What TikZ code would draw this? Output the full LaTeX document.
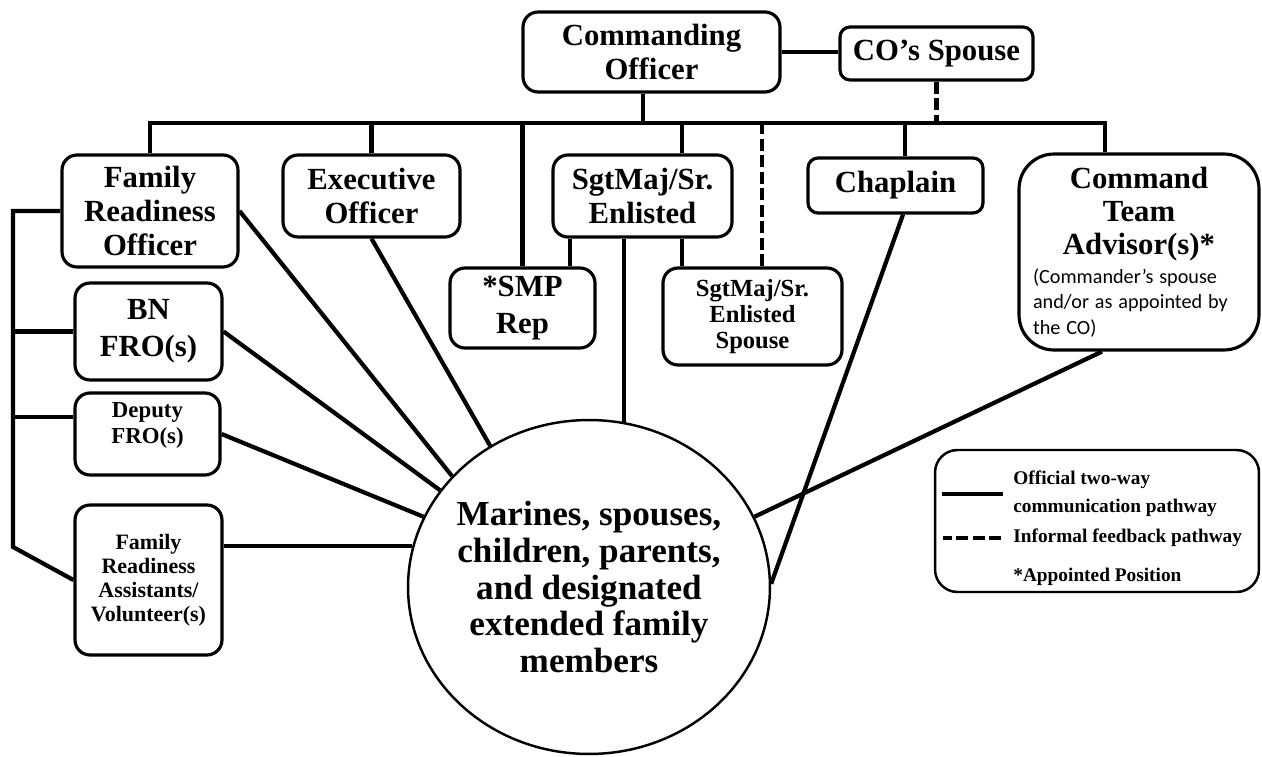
\documentclass[tikz,border=0pt]{standalone}
\usepackage{fontspec}
\setmainfont{Liberation Serif}
\newfontfamily\calibrifont{Carlito}
\usepackage{tikz}
\usetikzlibrary{shapes.geometric, calc}

\begin{document}
\begin{tikzpicture}[x=0.02cm, y=-0.02cm,
  unit/.style={draw, line width=1.8pt, rounded corners=0.3cm, align=center, inner sep=1pt},
  bigtxt/.style={font={\fontsize{17.5}{19.5}\selectfont\bfseries}},
  talltxt/.style={font={\fontsize{17.5}{21}\selectfont\bfseries}},
  legtxt/.style={font={\fontsize{11}{15.9}\selectfont\bfseries}, align=left, inner sep=0pt},
  conn/.style={line width=2.4pt},
  info/.style={line width=2.4pt, dash pattern=on 0.24cm off 0.09cm}]
  \useasboundingbox (0,0) rectangle (1262,757);

  % Command level
  \node[unit, bigtxt, minimum width=5.14cm, minimum height=1.6cm] (co) at (651.5,52) {Commanding\\Officer};
  \node[unit, bigtxt, rounded corners=0.2cm, minimum width=3.86cm, minimum height=1.06cm] (cosp) at (936.5,53.5) {CO’s Spouse};

  % Staff row
  \node[unit, bigtxt, minimum width=3.52cm, minimum height=2.24cm] (fro) at (150,211) {Family\\Readiness\\Officer};
  \node[unit, bigtxt, minimum width=3.54cm, minimum height=1.64cm] (xo) at (371.5,196) {Executive\\Officer};
  \node[unit, bigtxt, minimum width=3.58cm, minimum height=1.64cm] (sgt) at (642.5,196) {SgtMaj/Sr.\\Enlisted};
  \node[unit, bigtxt, rounded corners=0.2cm, minimum width=3.5cm, minimum height=1.1cm] (chap) at (895.5,185.5) {Chaplain};
  \node[draw, line width=1.8pt, rounded corners=0.7cm, minimum width=4.8cm, minimum height=3.92cm,
    text width=4.24cm, inner sep=1pt] (cta) at (1139,252)
    {\parindent=0pt{\centering\fontsize{17.5}{18.7}\selectfont\bfseries Command\\Team\\Advisor(s)*\par}
     \vspace{2pt}
     {\raggedright\calibrifont\fontsize{11.5}{14.5}\selectfont (Commander’s spouse\\and/or as appointed by\\the CO)\par}};

  % Lower boxes
  \node[unit, talltxt, minimum width=2.9cm, minimum height=1.6cm] (smp) at (522.5,308) {*SMP\\Rep};
  \node[unit, font={\fontsize{14}{15}\selectfont\bfseries}, minimum width=3.58cm, minimum height=1.94cm] (sgtsp) at (752.5,316.5) {SgtMaj/Sr.\\Enlisted\\Spouse};
  \node[unit, talltxt, minimum width=2.94cm, minimum height=1.94cm] (bn) at (148.5,331.5) {BN\\FRO(s)};
  \node[unit, font={\fontsize{13}{14.8}\selectfont\bfseries}, text depth=0.44cm, minimum width=2.9cm, minimum height=1.64cm] (dep) at (147.5,434) {Deputy\\FRO(s)};
  \node[unit, font={\fontsize{12.5}{13.6}\selectfont\bfseries}, minimum width=2.94cm, minimum height=3cm] (fra) at (148.5,580) {Family\\Readiness\\Assistants/\\Volunteer(s)};

  % Families
  \node[draw, ellipse, line width=1.4pt, inner sep=-1cm, minimum width=7.24cm, minimum height=6.68cm,
    align=center, font={\fontsize{20}{21}\selectfont\bfseries}] (circ) at (589,587)
    {Marines, spouses,\\children, parents,\\and designated\\extended family\\members};

  % Spine
  \coordinate (busL) at (150,123);
  \coordinate (busR) at (1105,123);
  \draw[conn] (fro.north) -- (busL) -- (busR) -- (busR |- cta.north);
  \draw[conn] ([xshift=-0.17cm]co.south) -- ([xshift=-0.17cm]co.south |- busL);
  \draw[conn] (co.east) -- (co.east -| cosp.west);
  \draw[info] (cosp.south) -- (cosp.south |- busL);
  \draw[conn] (xo.north) -- (xo.north |- busL);
  \draw[conn] (smp.north) -- (smp.north |- busL);
  \draw[conn] ([xshift=0.79cm]sgt.north) -- ([xshift=0.79cm]sgt.north |- busL);
  \draw[info] ([xshift=0.19cm]sgtsp.north) -- ([xshift=0.19cm]sgtsp.north |- busL);
  \draw[conn] ([xshift=0.19cm]chap.north) -- ([xshift=0.19cm]chap.north |- busL);

  % Under SgtMaj
  \draw[conn] ([xshift=-1.45cm]sgt.south) -- ([xshift=-1.45cm]sgt.south |- smp.north);
  \draw[conn] ([xshift=0.79cm]sgt.south) -- ([xshift=0.79cm]sgt.south |- sgtsp.north);
  \draw[conn] (sgt.south -| circ.78) -- (circ.78);

  % Left bracket
  \coordinate (brkT) at (13,211);
  \coordinate (brkB) at (13,547);
  \draw[conn] (fro.west) -- (brkT) -- (brkB) -- (fra.west);
  \draw[conn] (bn.west) -- (bn.west -| brkT);
  \draw[conn] ([yshift=0.34cm]dep.west) -- ([yshift=0.34cm]dep.west -| brkT);

  % To families
  \draw[conn] (fro.east) -- (circ.141);
  \draw[conn] (xo.south) -- (circ.125);
  \draw[conn] (bn.east) -- (circ.147);
  \draw[conn] (dep.east) -- (circ.157);
  \draw[conn] (circ.167 -| fra.east) -- (circ.167);
  \draw[conn] ([xshift=0.15cm]chap.south) -- (circ.1);
  \draw[conn] ([xshift=-0.74cm]cta.south) -- (circ.23);

  % Legend
  \node[draw, line width=1.4pt, rounded corners=0.45cm, minimum width=6.48cm, minimum height=2.84cm] (legend) at (1097,521) {};
  \node[legtxt, anchor=west] (official) at (1013,494) {Official two-way\\communication pathway};
  \node[legtxt, anchor=west] (informal) at (1013,538) {Informal feedback pathway};
  \node[legtxt, anchor=west] (appointed) at (1013,577) {*Appointed Position};
  \draw[conn] ([xshift=-0.2cm]official.west) -- ++(-1.22cm,0);
  \draw[info] ([xshift=-0.24cm]informal.west) -- ++(-1.16cm,0);
\end{tikzpicture}
\end{document}
